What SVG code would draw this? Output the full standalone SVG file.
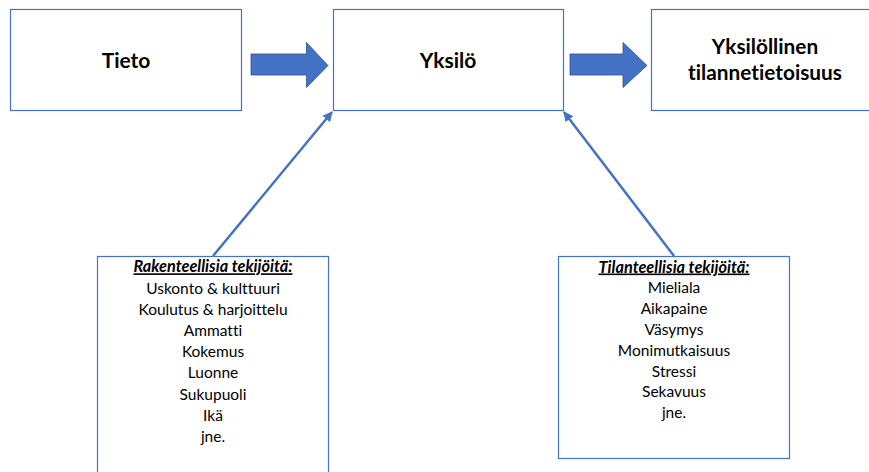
<svg xmlns="http://www.w3.org/2000/svg" width="869" height="472" viewBox="0 0 869 472">
<defs>
<style>
.box{fill:#ffffff;stroke:#4472C4;stroke-width:1.2}
.big{fill:#4472C4;stroke:#2F528F;stroke-width:0.8}
.conn{stroke:#4472C4;stroke-width:2.5;fill:none}
.hd{font-family:Lato,"Liberation Sans",sans-serif;font-weight:bold;font-size:21px;fill:#000;text-anchor:middle;font-variant-ligatures:none}
.ls{font-family:Lato,"Liberation Sans",sans-serif;font-size:15.5px;fill:#000;text-anchor:middle;font-variant-ligatures:none}
.tt{font-style:italic;font-weight:bold;text-decoration:underline;font-size:16.3px}
</style>
<marker id="ah" viewBox="0 0 10 10" refX="9" refY="5" markerWidth="4" markerHeight="4" orient="auto" markerUnits="strokeWidth">
<path d="M0,0 L10,5 L0,10 z" fill="#4472C4"/>
</marker>
</defs>
<rect width="869" height="472" fill="#ffffff"/>
<g id="tieto">
<rect class="box" x="10.5" y="9.5" width="231" height="101"/>
<text class="hd" x="126" y="68">Tieto</text>
</g>
<g id="yksilo">
<rect class="box" x="333.5" y="9.5" width="230" height="101"/>
<text class="hd" x="448" y="68">Yksilö</text>
</g>
<g id="tilannetietoisuus">
<rect class="box" x="651.5" y="9.5" width="230" height="101"/>
<text class="hd" x="765" y="54" style="font-size:20.8px">Yksilöllinen</text>
<text class="hd" x="765" y="79.5" style="font-size:20.8px">tilannetietoisuus</text>
</g>
<g id="rakenteelliset">
<rect class="box" x="97.5" y="256.5" width="231" height="230"/>
<text class="ls" x="213" y="272.3"><tspan class="tt">Rakenteellisia tekijöitä:</tspan></text>
<text class="ls" x="213" y="293.5">Uskonto &amp; kulttuuri</text>
<text class="ls" x="213" y="314.7">Koulutus &amp; harjoittelu</text>
<text class="ls" x="213" y="335.9">Ammatti</text>
<text class="ls" x="213" y="357.1">Kokemus</text>
<text class="ls" x="213" y="378.3">Luonne</text>
<text class="ls" x="213" y="399.5">Sukupuoli</text>
<text class="ls" x="213" y="420.7">Ikä</text>
<text class="ls" x="213" y="441.9">jne.</text>
</g>
<g id="tilanteelliset">
<rect class="box" x="558.5" y="256.5" width="231" height="202"/>
<text class="ls" x="674" y="272.5"><tspan class="tt">Tilanteellisia tekijöitä:</tspan></text>
<text class="ls" x="674" y="293.3">Mieliala</text>
<text class="ls" x="674" y="314.1">Aikapaine</text>
<text class="ls" x="674" y="334.9">Väsymys</text>
<text class="ls" x="674" y="355.7">Monimutkaisuus</text>
<text class="ls" x="674" y="376.5">Stressi</text>
<text class="ls" x="674" y="397.3">Sekavuus</text>
<text class="ls" x="674" y="418.1">jne.</text>
</g>
<g id="connectors">
<path class="big" d="M251,54 L306.5,54 L306.5,42.5 L328,65.5 L306.5,87.5 L306.5,75 L251,75 z"/>
<path class="big" d="M570,54 L623,54 L623,42.5 L647,65.5 L623,87.5 L623,75 L570,75 z"/>
<line class="conn" x1="213" y1="256" x2="332" y2="112" marker-end="url(#ah)"/>
<line class="conn" x1="674" y1="256" x2="564" y2="112" marker-end="url(#ah)"/>
</g>
</svg>
